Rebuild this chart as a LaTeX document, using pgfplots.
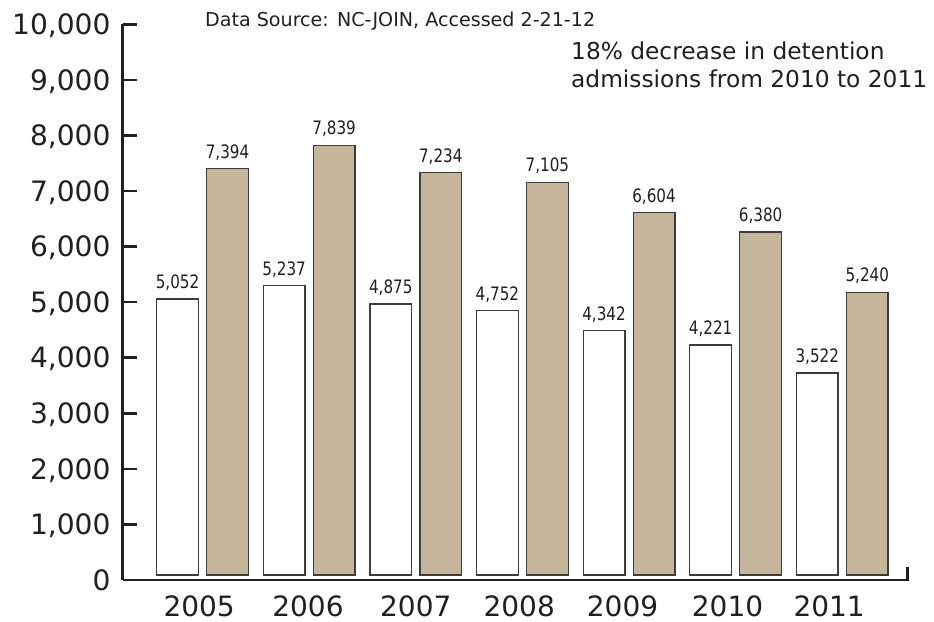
\documentclass[border=0pt]{standalone}
\usepackage{fontspec}
\setmainfont{DejaVu Sans}
\newfontfamily\labelfont{DejaVu Sans}[FakeStretch=0.82]
\usepackage{pgfplots}
\usepackage{pgfplotstable}
\pgfplotsset{compat=1.18}
\definecolor{tanbar}{RGB}{196,181,155}
\definecolor{axisc}{RGB}{35,31,32}
\definecolor{edgec}{RGB}{60,60,60}

% bar heights as drawn and the printed labels
\pgfplotstableread{
x white wlab tan tlab
0 5057 5,052 7402 7,394
1 5296 5,237 7823 7,839
2 4967 4,875 7330 7,234
3 4846 4,752 7157 7,105
4 4486 4,342 6610 6,604
5 4229 4,221 6262 6,380
6 3725 3,522 5177 5,240
}\datatable

\begin{document}
\begin{tikzpicture}
\useasboundingbox (0,0) rectangle (934pt,621pt);
\begin{axis}[
  at={(122.7pt,41pt)}, anchor=south west,
  scale only axis, width=786.3pt, height=555.7pt,
  xmin=-0.749, xmax=6.626, ymin=-90, ymax=9910,
  enlargelimits=false, clip=false,
  axis x line=bottom, axis y line=left,
  axis line style={-, line width=2.7pt, color=axisc},
  ybar=8.3pt, bar width=41.7pt,
  ytick={-90,910,1910,2910,3910,4910,5910,6910,7910,8910,9910},
  yticklabels={0,{1,000},{2,000},{3,000},{4,000},{5,000},{6,000},{7,000},{8,000},{9,000},{10,000}},
  xtick={-0.032,0.989,2.0,2.970,3.939,4.924,5.877},
  xticklabels={2005,2006,2007,2008,2009,2010,2011},
  tick align=inside, major tick length=14.7pt,
  ytick style={line width=2.7pt, color=axisc},
  xtick style={draw=none},
  yticklabel style={anchor=base east, inner sep=0pt, xshift=-12pt, yshift=-10.2pt,
     font=\fontsize{28.1}{33}\selectfont, text=axisc},
  xticklabel style={anchor=north, inner sep=0pt, yshift=-15.6pt,
     font=\fontsize{28}{33}\selectfont, text=axisc},
  y filter/.expression={y-90},
  nodes near coords, point meta=explicit symbolic,
  every node near coord/.append style={anchor=south, text depth=0pt, inner sep=0pt, yshift=10pt,
     font=\labelfont\fontsize{18.5}{20}\selectfont, text=axisc},
]
\addplot[fill=white, draw=edgec, line width=1.3pt] table[x=x, y=white, meta=wlab] {\datatable};
\addplot[fill=tanbar, draw=edgec, line width=1.3pt] table[x=x, y=tan, meta=tlab] {\datatable};
\draw[axisc, line width=2.7pt] ([xshift=-1.35pt]rel axis cs:1,0) -- ([xshift=-1.35pt,yshift=13.3pt]rel axis cs:1,0);
\end{axis}
\node[anchor=base west, inner sep=0pt, text=axisc, font=\fontsize{19.1}{22}\selectfont] at (205pt,594.3pt) {Data Source: NC-JOIN, Accessed 2-21-12};
\node[anchor=base west, inner sep=0pt, text=axisc, font=\fontsize{23.3}{28}\selectfont] at (571pt,561pt) {18\% decrease in detention};
\node[anchor=base west, inner sep=0pt, text=axisc, font=\fontsize{23.3}{28}\selectfont] at (571pt,533.7pt) {admissions from 2010 to 2011};
\end{tikzpicture}
\end{document}
